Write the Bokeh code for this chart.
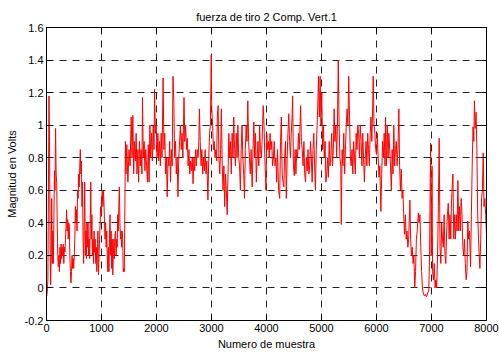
from bokeh.plotting import figure
from bokeh.models import FixedTicker, LinearAxis, NumeralTickFormatter
from bokeh.embed import file_html
from bokeh.resources import INLINE

titulo = "fuerza de tiro 2 Comp. Vert.1"
etiqueta_x = "Numero de muestra"
etiqueta_y = "Magnitud en Volts"
ticks_x = [0, 1000, 2000, 3000, 4000, 5000, 6000, 7000, 8000]
ticks_y = [-0.2, 0, 0.2, 0.4, 0.6, 0.8, 1, 1.2, 1.4, 1.6]

# segment A: samples 0..1445
x_a = [5, 15, 25, 35, 45, 55, 65, 75, 85, 95,
       105, 115, 125, 135, 145, 155, 165, 175, 185, 195,
       205, 215, 225, 235, 245, 255, 265, 275, 285, 295,
       305, 315, 325, 335, 345, 355, 365, 375, 385, 395,
       405, 415, 425, 435, 445, 455, 465, 475, 485, 495,
       505, 515, 525, 535, 545, 555, 565, 575, 585, 595,
       605, 615, 625, 635, 645, 655, 665, 675, 685, 695,
       705, 715, 725, 735, 745, 755, 765, 775, 785, 795,
       805, 815, 825, 835, 845, 855, 865, 875, 885, 895,
       905, 915, 925, 935, 945, 955, 965, 975, 985, 995,
       1005, 1015, 1025, 1035, 1045, 1055, 1065, 1075, 1085, 1095,
       1105, 1115, 1125, 1135, 1145, 1155, 1165, 1175, 1185, 1195,
       1205, 1215, 1225, 1235, 1245, 1255, 1265, 1275, 1285, 1295,
       1305, 1315, 1325, 1335, 1345, 1355, 1365, 1375, 1385, 1395,
       1405, 1415, 1425, 1435, 1445]
y_a = [-0.05, -0.02, 0.05, 0.6, 1.18, 0.9, 0.3, 0.02, 0.2, 0.55,
       0.15, 0.35, 0.15, 0.45, 0.72, 0.6, 0.98, 0.7, 0.65, 0.4,
       0.2, 0.13, 0.2, 0.1, 0.25, 0.15, 0.27, 0.18, 0.25, 0.2,
       0.27, 0.15, 0.25, 0.22, 0.3, 0.38, 0.48, 0.35, 0.42, 0.3,
       0.4, 0.38, 0.2, 0.1, 0.03, 0.1, 0.2, 0.12, 0.18, 0.12,
       0.2, 0.3, 0.5, 0.4, 0.48, 0.35, 0.6, 0.55, 0.7, 0.62,
       0.75, 0.85, 0.7, 0.78, 0.5, 0.65, 0.3, 0.15, 0.4, 0.65,
       0.2, 0.35, 0.18, 0.4, 0.25, 0.4, 0.2, 0.3, 0.18, 0.4,
       0.65, 0.3, 0.45, 0.2, 0.3, 0.15, 0.35, 0.22, 0.3, 0.15,
       0.25, 0.1, 0.2, 0.35, 0.08, 0.2, 0.3, 0.4, 0.5, 0.45,
       0.55, 0.6, 0.5, 0.6, 0.52, 0.4, 0.3, 0.4, 0.25, 0.35,
       0.2, 0.1, 0.25, 0.1, 0.3, 0.45, 0.2, 0.35, 0.12, 0.3,
       0.08, 0.2, 0.3, 0.18, 0.32, 0.35, 0.2, 0.3, 0.25, 0.45,
       0.35, 0.5, 0.62, 0.4, 0.3, 0.35, 0.25, 0.35, 0.3, 0.1,
       0.12, 0.1, 0.5, 0.9, 0.7]

# segment B: samples 1460..2010
x_b = [1460, 1480, 1500, 1520, 1540, 1555, 1570, 1585, 1600, 1615,
       1630, 1645, 1660, 1675, 1690, 1705, 1720, 1735, 1745, 1760,
       1775, 1790, 1805, 1820, 1835, 1850, 1865, 1880, 1895, 1910,
       1925, 1940, 1955, 1965, 1980, 1995, 2010]
y_b = [0.88, 0.65, 0.85, 0.75, 1.05, 0.8, 1.06, 0.7, 0.9, 0.78,
       0.95, 0.7, 0.85, 0.65, 0.9, 0.75, 0.85, 0.7, 1.17, 0.8,
       0.9, 0.72, 0.85, 0.75, 0.65, 0.88, 0.65, 1.0, 0.8, 0.95,
       0.78, 1.0, 0.85, 1.22, 0.95, 1.0, 0.8]

# segment C: samples 2025..4220
x_c = [2025, 2040, 2055, 2070, 2085, 2100, 2120, 2135, 2150, 2165,
       2180, 2195, 2210, 2225, 2240, 2255, 2270, 2285, 2300, 2315,
       2330, 2345, 2360, 2375, 2390, 2405, 2420, 2435, 2450, 2465,
       2480, 2500, 2515, 2530, 2545, 2560, 2575, 2590, 2605, 2620,
       2635, 2650, 2665, 2680, 2695, 2710, 2725, 2740, 2755, 2770,
       2780, 2795, 2810, 2825, 2840, 2855, 2870, 2885, 2900, 2915,
       2935, 2950, 2965, 2980, 2995, 3005, 3020, 3035, 3050, 3065,
       3080, 3095, 3105, 3120, 3135, 3150, 3165, 3180, 3195, 3210,
       3225, 3240, 3255, 3270, 3285, 3300, 3315, 3330, 3345, 3360,
       3375, 3390, 3405, 3420, 3435, 3450, 3465, 3480, 3495, 3510,
       3525, 3540, 3555, 3570, 3585, 3600, 3615, 3630, 3645, 3660,
       3675, 3690, 3705, 3720, 3740, 3755, 3770, 3785, 3800, 3815,
       3830, 3845, 3860, 3875, 3890, 3905, 3920, 3940, 3955, 3970,
       3990, 4005, 4020, 4035, 4050, 4065, 4080, 4095, 4110, 4125,
       4140, 4155, 4170, 4185, 4200, 4220]
y_c = [0.95, 0.78, 0.9, 0.75, 0.95, 0.8, 1.29, 0.85, 0.95, 0.7,
       0.8, 0.56, 0.8, 0.75, 0.9, 0.65, 0.85, 0.75, 1.3, 1.15,
       0.8, 0.9, 0.7, 0.8, 0.56, 0.8, 0.9, 1.0, 0.85, 0.95,
       0.8, 1.17, 0.9, 1.0, 0.85, 0.92, 0.75, 0.85, 0.7, 0.78,
       0.72, 0.8, 0.64, 0.8, 0.72, 0.85, 0.75, 0.85, 0.8, 0.9,
       1.1, 0.9, 0.75, 0.85, 0.7, 0.8, 0.72, 0.85, 0.7, 0.78,
       0.54, 0.8, 0.95, 1.0, 1.43, 1.1, 1.0, 0.85, 0.9, 0.8,
       0.85, 0.78, 1.05, 1.12, 0.8, 0.7, 0.85, 1.1, 0.75, 0.6,
       0.75, 0.5, 0.7, 0.6, 0.45, 0.7, 0.95, 0.8, 0.9, 0.7,
       0.95, 0.8, 1.05, 0.85, 0.75, 0.95, 0.8, 1.0, 0.8, 0.75,
       0.6, 0.85, 1.0, 0.8, 0.7, 0.55, 0.85, 1.0, 0.9, 1.15,
       0.9, 0.8, 0.7, 0.85, 0.62, 0.85, 1.02, 0.8, 0.95, 0.65,
       0.8, 0.9, 0.75, 1.0, 0.85, 0.8, 0.9, 1.12, 1.0, 0.8,
       0.6, 0.95, 0.85, 0.9, 0.8, 0.95, 0.85, 0.9, 0.75, 0.8,
       0.9, 0.75, 0.8, 0.65, 0.85, 0.6]

# segment D: samples 4240..6080
x_d = [4240, 4255, 4270, 4285, 4300, 4315, 4330, 4345, 4360, 4375,
       4390, 4405, 4420, 4435, 4450, 4465, 4475, 4490, 4505, 4520,
       4535, 4550, 4565, 4580, 4595, 4610, 4620, 4635, 4650, 4665,
       4680, 4695, 4710, 4725, 4740, 4755, 4770, 4785, 4800, 4815,
       4830, 4845, 4860, 4875, 4890, 4905, 4920, 4935, 4945, 4960,
       4975, 4990, 5005, 5020, 5035, 5050, 5065, 5080, 5095, 5110,
       5125, 5140, 5155, 5170, 5185, 5200, 5215, 5230, 5245, 5260,
       5275, 5290, 5305, 5320, 5335, 5350, 5360, 5375, 5390, 5405,
       5420, 5435, 5450, 5465, 5480, 5495, 5510, 5525, 5540, 5555,
       5570, 5585, 5600, 5615, 5630, 5645, 5660, 5675, 5690, 5705,
       5720, 5735, 5750, 5765, 5780, 5795, 5810, 5825, 5840, 5855,
       5870, 5885, 5900, 5915, 5930, 5940, 5955, 5970, 5985, 6000,
       6015, 6030, 6045, 6060, 6080]
y_d = [0.55, 0.9, 1.05, 0.7, 0.65, 0.62, 0.8, 0.9, 0.55, 0.8,
       0.95, 1.07, 0.9, 0.8, 0.95, 1.05, 1.18, 0.75, 0.69, 0.85,
       0.7, 0.85, 0.8, 0.95, 0.85, 1.0, 1.12, 0.9, 0.85, 0.75,
       0.9, 0.7, 0.65, 0.8, 0.72, 0.85, 0.7, 0.75, 0.9, 0.8,
       0.65, 0.85, 0.95, 0.75, 0.6, 0.85, 1.0, 1.15, 1.3, 1.05,
       1.3, 1.0, 1.2, 0.85, 1.0, 0.8, 0.9, 0.65, 0.7, 0.8,
       0.68, 0.9, 0.75, 0.8, 0.95, 0.75, 0.85, 1.1, 0.9, 1.0,
       0.8, 1.0, 1.4, 1.0, 0.8, 0.75, 0.39, 0.85, 0.75, 0.95,
       0.7, 0.85, 1.0, 1.1, 1.0, 1.3, 1.05, 0.8, 0.75, 0.85,
       0.7, 0.9, 0.8, 0.7, 0.95, 0.85, 1.0, 0.95, 0.8, 1.0,
       0.9, 0.75, 0.95, 0.8, 0.65, 0.8, 0.9, 0.75, 0.95, 0.85,
       0.75, 0.95, 1.05, 0.9, 1.1, 1.3, 1.0, 0.95, 0.85, 0.82,
       0.95, 0.8, 0.68, 0.75, 0.47]

# segment E: samples 6095..8000
x_e = [6095, 6110, 6125, 6140, 6155, 6165, 6180, 6195, 6210, 6225,
       6240, 6255, 6270, 6285, 6300, 6315, 6330, 6345, 6360, 6375,
       6390, 6407, 6420, 6435, 6450, 6465, 6480, 6495, 6510, 6525,
       6540, 6555, 6570, 6585, 6607, 6620, 6635, 6650, 6665, 6680,
       6695, 6710, 6725, 6740, 6760, 6775, 6790, 6805, 6820, 6835,
       6850, 6870, 6890, 6910, 6930, 6950, 6965, 6983, 6995, 7010,
       7020, 7035, 7050, 7065, 7080, 7095, 7110, 7125, 7140, 7155,
       7170, 7185, 7200, 7215, 7230, 7245, 7260, 7275, 7290, 7305,
       7320, 7335, 7350, 7365, 7390, 7405, 7420, 7435, 7450, 7465,
       7480, 7495, 7510, 7525, 7540, 7555, 7570, 7585, 7600, 7615,
       7630, 7645, 7660, 7675, 7690, 7710, 7725, 7740, 7755, 7770,
       7780, 7795, 7810, 7825, 7840, 7855, 7868, 7880, 7895, 7910,
       7925, 7940, 7955, 7970, 7985, 8000]
y_e = [0.7, 0.9, 0.8, 0.95, 0.75, 1.05, 0.75, 1.0, 0.8, 0.95,
       0.85, 0.75, 0.6, 0.85, 0.7, 1.0, 0.75, 0.85, 0.9, 0.75,
       0.85, 1.1, 0.75, 0.6, 0.73, 0.55, 0.6, 0.45, 0.33, 0.45,
       0.3, 0.35, 0.25, 0.3, 0.54, 0.3, 0.2, 0.25, 0.15, 0.2,
       0.0, 0.1, 0.3, 0.35, 0.46, 0.4, 0.45, 0.25, 0.1, 0.0,
       -0.03, -0.05, -0.04, -0.055, -0.03, -0.02, 0.2, 0.89, 0.2, 0.75,
       0.1, 0.05, 0.15, 0.0, 0.05, 0.0, 0.2, 0.5, 0.92, 0.25,
       0.15, 0.4, 0.3, 0.25, 0.45, 0.2, 0.15, 0.35, 0.45, 0.52,
       0.3, 0.45, 0.3, 0.55, 0.7, 0.3, 0.45, 0.3, 0.45, 0.35,
       0.66, 0.35, 0.5, 0.35, 0.55, 0.45, 0.25, 0.2, 0.3, 0.15,
       0.05, 0.1, 0.41, 0.3, 0.35, 0.13, 0.45, 0.75, 0.99, 0.9,
       1.15, 0.98, 1.08, 0.85, 0.45, 0.3, 0.2, 0.12, 0.3, 0.55,
       0.6, 0.83, 0.5, 0.55, 0.45, 0.33]

for xs, ys in ((x_a, y_a), (x_b, y_b), (x_c, y_c), (x_d, y_d), (x_e, y_e)):
    assert len(xs) == len(ys), (len(xs), len(ys))

muestra = x_a + x_b + x_c + x_d + x_e
magnitud = y_a + y_b + y_c + y_d + y_e

FONT = "Liberation Sans"

p = figure(width=499, height=355, x_range=(0, 8000), y_range=(-0.2, 1.6),
           output_backend="svg", toolbar_location=None,
           min_border_left=46, min_border_right=13,
           min_border_top=27, min_border_bottom=35,
           background_fill_color="white", border_fill_color="white")

p.title.text = titulo
p.title.align = "center"
p.title.text_font = FONT
p.title.text_font_size = "11px"
p.title.text_font_style = "normal"
p.title.text_color = "black"

p.outline_line_color = "black"
p.outline_line_width = 1
p.outline_line_alpha = 1

xt = FixedTicker(ticks=ticks_x)
yt = FixedTicker(ticks=ticks_y)

p.xaxis.ticker = xt
p.yaxis.ticker = yt
p.yaxis.formatter = NumeralTickFormatter(format="0.[0]")
p.xaxis.formatter = NumeralTickFormatter(format="0")
p.xaxis.axis_label = etiqueta_x
p.yaxis.axis_label = etiqueta_y

for ax in (p.xaxis[0], p.yaxis[0]):
    ax.major_tick_in = 5
    ax.major_tick_out = 0
    ax.minor_tick_line_color = None
    ax.axis_line_color = "black"
    ax.major_tick_line_color = "black"
    ax.major_label_text_font = FONT
    ax.major_label_text_font_size = "11px"
    ax.major_label_text_color = "black"
    ax.axis_label_text_font = FONT
    ax.axis_label_text_font_size = "11px"
    ax.axis_label_text_font_style = "normal"
    ax.axis_label_text_color = "black"

p.xaxis.major_label_standoff = 3
p.xaxis.axis_label_standoff = 3
p.yaxis.major_label_standoff = 3
p.yaxis.axis_label_standoff = 4

# tick marks only on the top and right edges (no labels)
for loc, tk in (("right", yt), ("above", xt)):
    ax = LinearAxis(ticker=tk)
    ax.major_tick_in = 5
    ax.major_tick_out = 0
    ax.minor_tick_line_color = None
    ax.axis_line_color = "black"
    ax.major_tick_line_color = "black"
    ax.major_label_text_font_size = "1px"
    ax.major_label_text_color = None
    ax.major_label_standoff = 0
    p.add_layout(ax, loc)

for g, tk in ((p.xgrid[0], xt), (p.ygrid[0], yt)):
    g.ticker = tk
    g.grid_line_color = "#222222"
    g.grid_line_dash = "7 6"
    g.grid_line_width = 1
    g.grid_line_alpha = 1

p.line(muestra, magnitud, line_color="red", line_width=1)

open("out.html", "w").write(file_html(p, INLINE))
